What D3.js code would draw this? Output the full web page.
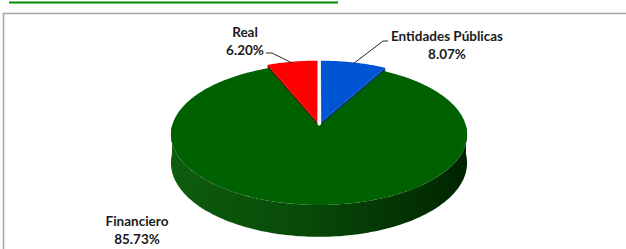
<!DOCTYPE html>
<html>
<head>
<meta charset="utf-8">
<script src="https://cdn.jsdelivr.net/npm/d3@7"></script>
<style>
  html, body { margin: 0; padding: 0; background: #fff; }
  svg { display: block; }
  .lbl { font-family: Lato, "Open Sans", sans-serif; font-weight: 700; font-size: 13.5px; fill: #1a1a1a; }
</style>
</head>
<body>
<div id="chart"></div>
<script>
'use strict';

// data
const categories = ["Entidades Públicas", "Financiero", "Real"];
const shares = [8.07, 85.73, 6.20];
const shareLabels = ["8.07%", "85.73%", "6.20%"];
const pulledOut = [true, false, true];

// styles
const topColors = ["#0055d5", "#006100", "#ff0000"];
const sideColors = ["#00337e", "#0a4f0a", "#7a0000"];

const width = 626, height = 249;
const cx = 319, cy = 126, rx = 147, ry = 69.5;
const depth = 28, persp = 0.12, explode = 0.06;

// label layout: text centre/baseline and leader line knees
const labelLayout = {
    "Entidades Públicas": {x: 447, y: 41, knee: [383, 41], end: [388, 41]},
    "Financiero": {x: 137, y: 226},
    "Real": {x: 245, y: 37, knee: [272, 53], end: [266, 53]}
};

const svg = d3.select("#chart").append("svg")
    .attr("width", width)
    .attr("height", height);

// title underline (title itself is cut off above) and chart frame
svg.append("line")
    .attr("x1", 9).attr("x2", 338).attr("y1", 2.5).attr("y2", 2.5)
    .attr("stroke", "#008a00").attr("stroke-width", 2);
svg.append("rect")
    .attr("x", 3.5).attr("y", 13.5).attr("width", 660).attr("height", 280)
    .attr("fill", "none").attr("stroke", "#aaaaaa").attr("stroke-width", 1.6);

const x = d3.scaleLinear().domain([-1, 1]).range([cx - rx, cx + rx]);
const y = d3.scaleLinear().domain([-1, 1]).range([cy + ry, cy - ry]);

// u: right, v: away from viewer, z: 0 top face, 1 bottom face
function proj(u, v, z) {
    const d = 1 + persp * v;
    return [x(u / d), y(v / d) + depth * z / d];
}

const pie = d3.pie().sort(null).value(function(d) { return d; });
const arcs = pie(shares).map(function(a, i) {
    const mid = (a.startAngle + a.endAngle) / 2;
    const e = pulledOut[i] ? explode : 0;
    return {
        i: i, a0: a.startAngle, a1: a.endAngle, mid: mid,
        ou: e * Math.sin(mid), ov: e * Math.cos(mid)
    };
});

function rimPoint(s, a, z, r) {
    r = r === undefined ? 1 : r;
    return proj(s.ou + r * Math.sin(a), s.ov + r * Math.cos(a), z);
}

function arcPoints(s, a0, a1, z) {
    const n = Math.max(2, Math.ceil((a1 - a0) / 0.02));
    return d3.range(n + 1).map(function(k) { return rimPoint(s, a0 + (a1 - a0) * k / n, z); });
}

const line = d3.line().curve(d3.curveLinearClosed);

function topFace(s) {
    return line([proj(s.ou, s.ov, 0)].concat(arcPoints(s, s.a0, s.a1, 0)));
}

function radialFace(s, a) {
    return line([proj(s.ou, s.ov, 0), rimPoint(s, a, 0), rimPoint(s, a, 1), proj(s.ou, s.ov, 1)]);
}

function outerWall(s) {
    const a0 = Math.max(s.a0, Math.PI / 2), a1 = Math.min(s.a1, 3 * Math.PI / 2);
    if (a1 <= a0) return null;
    return line(arcPoints(s, a0, a1, 0).concat(arcPoints(s, a0, a1, 1).reverse()));
}

const defs = svg.append("defs");
const grad = defs.append("linearGradient")
    .attr("id", "wallGrad")
    .attr("gradientUnits", "userSpaceOnUse")
    .attr("x1", cx - rx).attr("x2", cx + rx).attr("y1", 0).attr("y2", 0);
grad.append("stop").attr("offset", "0%").attr("stop-color", "#0e5c0e");
grad.append("stop").attr("offset", "45%").attr("stop-color", "#084a08");
grad.append("stop").attr("offset", "100%").attr("stop-color", "#002500");

const pieG = svg.append("g").attr("class", "pie3d");

// radial side faces of the pulled-out slices (green top hides most of them)
arcs.filter(function(s) { return pulledOut[s.i]; }).forEach(function(s) {
    // left edge is visible when it faces the front-left, right edge when it faces front-right
    [s.a0, s.a1].forEach(function(a, k) {
        const normal = k === 0 ? a - Math.PI / 2 : a + Math.PI / 2;
        if (Math.cos(normal) < 0.05) {
            pieG.append("path")
                .attr("d", radialFace(s, a))
                .attr("fill", sideColors[s.i]);
        }
    });
});

// front wall of the big slice
arcs.forEach(function(s) {
    const d = outerWall(s);
    if (d) {
        pieG.append("path")
            .attr("d", d)
            .attr("fill", pulledOut[s.i] ? sideColors[s.i] : "url(#wallGrad)");
    }
});

// top faces: big slice first, pulled-out slices over it
arcs.slice().sort(function(a, b) { return pulledOut[a.i] - pulledOut[b.i]; }).forEach(function(s) {
    pieG.append("path")
        .attr("d", topFace(s))
        .attr("fill", topColors[s.i]);
});

// labels and leader lines
arcs.forEach(function(s) {
    const name = categories[s.i];
    const lay = labelLayout[name];
    if (lay.knee) {
        const p = rimPoint(s, s.mid, 0, 0.97);
        svg.append("polyline")
            .attr("points", [p, lay.knee, lay.end].map(function(q) { return q.join(","); }).join(" "))
            .attr("fill", "none")
            .attr("stroke", "#262626")
            .attr("stroke-width", 1);
    }
    const t = svg.append("text")
        .attr("class", "lbl")
        .attr("text-anchor", "middle")
        .attr("x", lay.x)
        .attr("y", lay.y);
    t.append("tspan").attr("x", lay.x).text(name);
    t.append("tspan").attr("x", lay.x).attr("dy", 18).text(shareLabels[s.i]);
});
</script>
</body>
</html>
